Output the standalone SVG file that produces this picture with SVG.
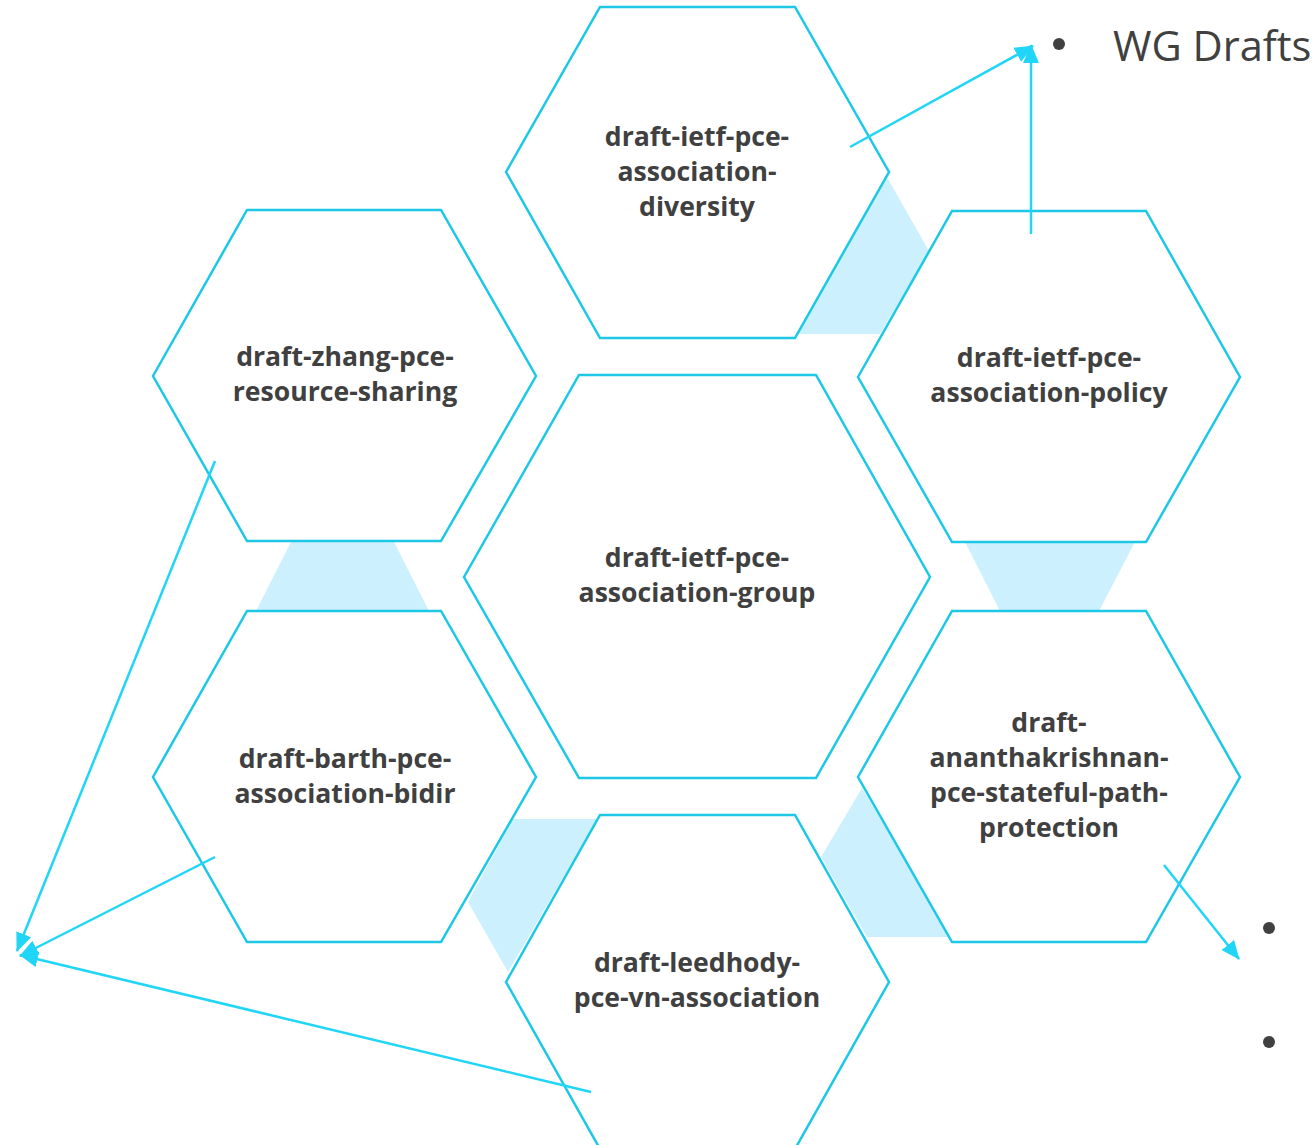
<svg xmlns="http://www.w3.org/2000/svg" width="1314" height="1145" viewBox="0 0 1314 1145">
<style>
.hex{fill:#ffffff;stroke:#1cc8e6;stroke-width:2.5;stroke-linejoin:miter}
.band{fill:#ccf0fd;stroke:none}
.lbl{font-family:"Open Sans","Noto Sans",sans-serif;font-weight:bold;font-size:26.6px;fill:#404040;text-anchor:middle}
.con{stroke:#21d5f7;stroke-width:2.5;fill:none;marker-end:url(#ah)}
.bul{fill:#404040}
</style>
<defs>
<marker id="ah" markerUnits="userSpaceOnUse" markerWidth="20" markerHeight="18" viewBox="0 0 20 18" refX="18" refY="9" orient="auto">
<path d="M0,1 L19,9 L0,17 Z" fill="#21d5f7"/>
</marker>
</defs>
<g id="bands">
<polygon class="band" points="884,172 929,251 880,334 798,334 840,250"/>
<polygon class="band" points="293,538 392,538 430,613 255,613"/>
<polygon class="band" points="963,538 1137,538 1098,613 1001,613"/>
<polygon class="band" points="513,819 597,819 508,972 468,902"/>
<polygon class="band" points="862,788 821,857 867,937 950,937 905,860"/>
</g>
<g id="n-diversity">
<polygon class="hex" points="506,172 600,7 795,7 889,172 795,338 600,338"/>
<text class="lbl" x="697" y="146">draft-ietf-pce-</text>
<text class="lbl" x="697" y="181">association-</text>
<text class="lbl" x="697" y="216">diversity</text>
</g>
<g id="n-policy">
<polygon class="hex" points="858,377 952,211 1146,211 1240,377 1146,542 952,542"/>
<text class="lbl" x="1049" y="367">draft-ietf-pce-</text>
<text class="lbl" x="1049" y="402">association-policy</text>
</g>
<g id="n-zhang">
<polygon class="hex" points="153,376 247,210 441,210 536,376 441,541 247,541"/>
<text class="lbl" x="345" y="366">draft-zhang-pce-</text>
<text class="lbl" x="345" y="401">resource-sharing</text>
</g>
<g id="n-group">
<polygon class="hex" points="464,577 579,375 816,375 930,577 816,778 579,778"/>
<text class="lbl" x="697" y="567">draft-ietf-pce-</text>
<text class="lbl" x="697" y="602">association-group</text>
</g>
<g id="n-barth">
<polygon class="hex" points="153,777 247,611 441,611 536,777 441,942 247,942"/>
<text class="lbl" x="345" y="768">draft-barth-pce-</text>
<text class="lbl" x="345" y="803">association-bidir</text>
</g>
<g id="n-ananth">
<polygon class="hex" points="858,777 952,611 1146,611 1240,777 1146,942 952,942"/>
<text class="lbl" x="1049" y="732">draft-</text>
<text class="lbl" x="1049" y="767">ananthakrishnan-</text>
<text class="lbl" x="1049" y="802">pce-stateful-path-</text>
<text class="lbl" x="1049" y="837">protection</text>
</g>
<g id="n-leedhody">
<polygon class="hex" points="506,982 600,815 795,815 889,982 795,1149 600,1149"/>
<text class="lbl" x="697" y="972">draft-leedhody-</text>
<text class="lbl" x="697" y="1007">pce-vn-association</text>
</g>
<g id="wg">
<circle class="bul" cx="1059" cy="44" r="6"/>
<text x="1113" y="61" font-family="'Open Sans','Noto Sans',sans-serif" font-size="41.6" fill="#404040">WG Drafts</text>
<circle class="bul" cx="1269" cy="928" r="6"/>
<circle class="bul" cx="1269" cy="1042" r="6"/>
</g>
<g id="connectors">
<line class="con" x1="850" y1="147" x2="1033" y2="46"/>
<line class="con" x1="1031" y1="234" x2="1031" y2="45"/>
<line class="con" x1="215" y1="461" x2="17" y2="951"/>
<line class="con" x1="215" y1="857" x2="20" y2="956"/>
<line class="con" x1="591" y1="1092" x2="20" y2="955"/>
<line class="con" x1="1164" y1="865" x2="1239" y2="959"/>
</g>
</svg>
